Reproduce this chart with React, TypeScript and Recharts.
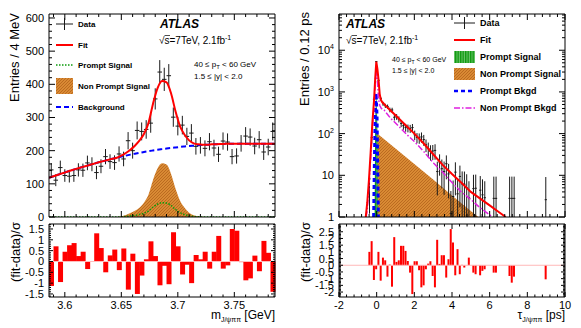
import React from 'react';
import { ComposedChart, Line, Area, Bar, Scatter, ErrorBar, XAxis, YAxis, ReferenceLine } from 'recharts';

const W = 581;
const H = 328;
const FONT = '"Liberation Sans", Arial, Helvetica, sans-serif';

// ---- left: m(J/psi pi pi), 4 MeV bins ----
const massBins = [3.588, 3.592, 3.596, 3.600, 3.604, 3.608, 3.612, 3.616, 3.620, 3.624, 3.628, 3.632, 3.636, 3.640, 3.644, 3.648, 3.652, 3.656, 3.660, 3.664, 3.668, 3.672, 3.676, 3.680, 3.684, 3.688, 3.692, 3.696, 3.700, 3.704, 3.708, 3.712, 3.716, 3.720, 3.724, 3.728, 3.732, 3.736, 3.740, 3.744, 3.748, 3.752, 3.756, 3.760, 3.764, 3.768, 3.772, 3.776, 3.780, 3.784];
const massCounts = [142, 111, 149, 125, 123, 125, 142, 141, 163, 159, 134, 153, 182, 167, 164, 190, 175, 230, 200, 261, 258, 264, 283, 356, 437, 415, 426, 301, 274, 277, 243, 253, 213, 216, 207, 227, 208, 189, 229, 226, 182, 184, 222, 244, 241, 214, 233, 196, 211, 258];
const massErrors = [20, 18, 21, 19, 19, 19, 20, 20, 22, 21, 20, 21, 23, 22, 22, 23, 22, 26, 24, 27, 27, 28, 29, 32, 36, 35, 35, 29, 28, 28, 26, 27, 25, 25, 24, 26, 25, 23, 26, 26, 23, 23, 25, 27, 26, 25, 26, 24, 25, 27];
const massPulls = [-1.13, 0.7, -0.95, 0.45, 0.75, 0.85, 0.25, 0.45, -0.35, -0.02, 1.3, 0.62, -0.5, 0.28, 0.55, -0.4, 0.6, -1.3, 0.36, -1.5, -0.65, 0.1, 0.93, 0.25, -1.1, -0.2, -1.05, 1.35, 0.7, -0.6, -0.15, -1.0, 0.3, 0.1, 0.45, -0.33, 0.45, 1.18, -0.33, -0.18, 1.5, 1.42, -0.03, -0.87, -0.78, 0.27, -0.45, 0.95, 0.4, -1.4];

const massCurveX = [3.586, 3.590, 3.594, 3.598, 3.602, 3.606, 3.610, 3.614, 3.618, 3.622, 3.626, 3.630, 3.634, 3.638, 3.642, 3.646, 3.650, 3.654, 3.658, 3.662, 3.666, 3.670, 3.674, 3.678, 3.682, 3.686, 3.690, 3.694, 3.698, 3.702, 3.706, 3.710, 3.714, 3.718, 3.722, 3.726, 3.730, 3.734, 3.738, 3.742, 3.746, 3.750, 3.754, 3.758, 3.762, 3.766, 3.770, 3.774, 3.778, 3.782, 3.786];
const massFit = [118, 122.8, 127.5, 132, 136.4, 140.8, 145, 149, 153, 157, 161, 164.8, 168.5, 172, 175.5, 178.8, 185, 193, 203, 215, 230, 250, 283, 341, 388, 410, 406, 373, 318, 273, 248, 231, 222, 219, 218, 218, 219, 219.6, 220.2, 220.6, 220.9, 221, 221, 221, 221, 221, 221, 221, 221, 221, 221];
const massBkg = [118, 122.8, 127.5, 132, 136.4, 140.8, 145, 149, 153, 157, 161, 164.8, 168.5, 172, 175.5, 178.8, 182, 185, 188, 190.8, 193.5, 196, 198.4, 200.6, 202.7, 204.6, 206.4, 208.1, 209.7, 211.2, 212.6, 213.9, 215.1, 216.2, 217.2, 218.1, 218.9, 219.6, 220.2, 220.6, 220.9, 221, 221, 221, 221, 221, 221, 221, 221, 221, 221];
const massNonPrompt = [0, 0, 0, 0, 0, 0, 0, 0, 0, 0, 0, 0, 0, 0, 0, 0, 2, 6, 12, 19, 28, 43, 67, 111, 146, 162, 158, 130, 85, 49, 28, 13, 5.5, 2.4, 0.8, 0, 0, 0, 0, 0, 0, 0, 0, 0, 0, 0, 0, 0, 0, 0, 0];
const massPrompt = [0, 0, 0, 0, 0, 0, 0, 0, 0, 0, 0, 0, 0, 0, 0, 0, 0.6, 1.7, 3.2, 5, 7.6, 11.3, 17.9, 29.4, 38.9, 43, 42, 34.7, 22.7, 13, 7.4, 3.6, 1.5, 0.6, 0.2, 0, 0, 0, 0, 0, 0, 0, 0, 0, 0, 0, 0, 0, 0, 0, 0];

// ---- right: pseudo-proper decay time, 0.12 ps bins ----
const tauBins = [-0.38, -0.26, -0.14, -0.02, 0.10, 0.22, 0.34, 0.46, 0.58, 0.70, 0.82, 0.94, 1.06, 1.18, 1.30, 1.42, 1.54, 1.66, 1.78, 1.90, 2.02, 2.14, 2.26, 2.38, 2.50, 2.62, 2.74, 2.86, 2.98, 3.10, 3.22, 3.34, 3.46, 3.58, 3.70, 3.82, 3.94, 4.06, 4.18, 4.30, 4.42, 4.54, 4.66, 4.78, 4.90, 5.14, 5.26, 5.50, 5.62, 5.74, 6.22, 6.34, 7.06, 7.18, 7.30, 8.98];
const tauCounts = [8.2, 80, 665, 5330, 1893, 688, 520, 466, 445, 372, 369, 246, 254, 222, 176, 155, 141, 136, 133, 140, 94, 81, 79, 83.5, 72, 54, 44, 37.5, 38.3, 39.6, 12.3, 20.8, 14.4, 12.4, 19, 10.8, 1.2, 3.1, 11.9, 3.6, 9.4, 6.2, 6.1, 5.0, 2.9, 4.8, 4.9, 4.4, 3.4, 2.9, 2.8, 2.8, 2.8, 2.8, 2.8, 2.6];
const tauErrors = [7, 22, 65, 180, 110, 65, 57, 54, 53, 48, 48, 39, 40, 37, 33, 31, 30, 29, 29, 30, 24, 22, 22, 23, 21, 18, 17, 15, 15, 16, 9, 11, 9.5, 9, 11, 8, 3, 4.4, 8.6, 4.7, 7.7, 6.2, 6.2, 5.6, 4.3, 5.5, 5.5, 5.2, 4.6, 4.3, 6.5, 6.5, 6.5, 6.5, 6.5, 6.5];
const tauPulls = [1.0, 1.8, -1.1, -0.3, 1.0, -1.15, 0.57, 0.37, -0.85, 0.05, -1.6, 2.1, 0.25, 0.37, 1.45, 1.45, 1.07, 0.32, -0.55, -2.15, 0.3, 0.3, -0.37, -1.65, -1.5, -0.3, 0.12, 0.3, -0.8, -1.65, 1.9, 0.1, 0.75, 0.75, -0.92, 0.45, 2.7, 1.7, -0.75, 1.2, -0.67, 0.03, -0.17, 0, 0.57, -0.55, -0.67, -0.75, -0.42, -0.3, -0.55, -0.55, -0.8, -1.3, -0.85, -1.05];

const fitTau = [-0.58, -0.5, -0.41, -0.32, -0.23, -0.14, -0.08, -0.02, 0.04, 0.10, 0.16, 0.22, 0.28, 0.5, 0.75, 1.0, 1.5, 2.0, 2.5, 3.0, 3.5, 4.0, 4.5, 5.0, 5.5, 6.0, 6.5, 6.85];
const fitVals = [1, 2.2, 7.7, 35, 177, 620, 2000, 5300, 3500, 1950, 900, 650, 580, 457, 355, 275, 166, 100, 58, 32, 17.8, 10.7, 6.6, 4, 2.75, 1.9, 1.3, 1];
const npBkgTau = [-0.56, -0.5, -0.41, -0.32, -0.23, -0.14, -0.08, -0.02, 0.04, 0.10, 0.16, 0.25, 0.39, 0.74, 1.0, 1.62, 2.0, 2.5, 3.03, 3.57, 4.0, 4.44, 4.97, 5.47, 6.03, 6.15];
const npBkgVals = [1, 1.5, 5.5, 25, 125, 450, 1500, 3600, 1800, 700, 480, 400, 370, 233, 180, 93, 65, 37, 19.5, 11, 6.7, 4.2, 2.7, 1.7, 1.1, 1];
const pBkgTau = [-0.16, -0.12, -0.08, -0.03, 0.02, 0.06, 0.09];
const pBkgVals = [1, 20, 250, 930, 250, 10, 1];
const pSigTau = [-0.12, -0.08, -0.04, 0.0, 0.04, 0.08];
const pSigVals = [1, 150, 700, 700, 150, 1];
const npSigTau = [-0.05, -0.04, 0, 1, 2, 3, 4, 5, 5.4];
const npSigVals = [1, 107, 103.5, 43.9, 18.6, 7.9, 3.3, 1.4, 1];

// ---- axis ticks ----
const range = (a: number, b: number, step: number, dp: number) => {
  const out: number[] = [];
  for (let i = 0; a + i * step <= b + step / 2; i++) out.push(+(a + i * step).toFixed(dp));
  return out;
};
const massMajor = [3.6, 3.65, 3.7, 3.75];
const massTicks = range(3.59, 3.78, 0.01, 2);
const countMajor = [0, 100, 200, 300, 400, 500, 600];
const countTicks = range(0, 600, 20, 0);
const pullMajorL = [-1.5, -1, -0.5, 0, 0.5, 1, 1.5];
const pullTicksL = range(-1.6, 1.7, 0.1, 1);
const tauMajor = [-2, 0, 2, 4, 6, 8, 10];
const tauTicks = range(-2, 10, 0.4, 1);
const logMajor = [1, 10, 100, 1000, 10000];
const logTicks = logMajor.flatMap((d) => [1, 2, 3, 4, 5, 6, 7, 8, 9].map((m) => m * d)).filter((v) => v <= 70000);
const pullMajorR = [-2, -1.5, -1, -0.5, 0, 0.5, 1, 1.5, 2, 2.5];
const pullTicksR = range(-2.3, 3.0, 0.1, 1);

// ---- tables ----
const massPoints = massBins.map((x, i) => ({ x, y: massCounts[i], ey: massErrors[i], ex: 0.002 }));
const massCurve = (ys: number[]) => massCurveX.map((x, i) => ({ x, y: ys[i] }));
const massPullRows = massBins.map((x, i) => ({ bin: x.toFixed(3), x, pull: massPulls[i] }));

// lower error stops at the bottom of the log axis (value 1)
const tauPoints = tauBins.map((x, i) => {
  const v = tauCounts[i];
  const e = tauErrors[i];
  return { x, y: v, ey: [Math.min(e, v - 1), e], ex: 0.06 };
});
const tauCurve = (xs: number[], ys: number[]) => xs.map((x, i) => ({ x, y: ys[i] }));
const tauGrid = Array.from({ length: 100 }, (_, k) => +(-1.94 + 0.12 * k).toFixed(2));
const tauPullRows = tauGrid.map((c) => {
  const j = tauBins.findIndex((b) => Math.abs(b - c) < 0.01);
  return { bin: c.toFixed(2), x: c, pull: j >= 0 ? tauPulls[j] : null };
});

// ---- ROOT-style inward ticks ----
type Side = 'bottom' | 'top' | 'left' | 'right';
const makeTick = (side: Side, majors: number[], len: number, label?: (v: number) => React.ReactNode) => (props: any) => {
  const { x, y, payload } = props;
  const v = payload.value as number;
  const isMajor = majors.some((m) => Math.abs(m - v) < 1e-6);
  const l = isMajor ? len : len / 2;
  const d = side === 'bottom' ? [0, -l] : side === 'top' ? [0, l] : side === 'left' ? [l, 0] : [-l, 0];
  return (
    <g>
      <line x1={x} y1={y} x2={x + d[0]} y2={y + d[1]} stroke="#000" strokeWidth={1} />
      {label && isMajor && side === 'bottom' && (
        <text x={x} y={y + 12} textAnchor="middle" fontSize={11} fontFamily={FONT} fill="#000">{label(v)}</text>
      )}
      {label && isMajor && side === 'left' && (
        <text x={x - 5} y={y + 4} textAnchor="end" fontSize={11} fontFamily={FONT} fill="#000">{label(v)}</text>
      )}
    </g>
  );
};
const plain = (v: number) => String(v);
const powLabel = (v: number) => {
  if (v === 1) return '1';
  if (v === 10) return '10';
  const n = Math.round(Math.log10(v));
  return (
    <>
      <tspan>10</tspan>
      <tspan dy={-5} fontSize={7}>{n}</tspan>
    </>
  );
};

// axes are 1px thick so that recharts draws them; margins are reduced by 1 to compensate
const axisCommon = { tickSize: 0, tickMargin: 0, tickLine: false, interval: 0 as const, axisLine: { stroke: '#000' }, allowDataOverflow: true };
const pos: React.CSSProperties = { position: 'absolute', left: 0, top: 0 };

const OrangeHatch = ({ id }: { id: string }) => (
  <pattern id={id} width={3} height={3} patternUnits="userSpaceOnUse">
    <rect width={3} height={3} fill="#d98a34" />
    <path d="M0,3 L3,0" stroke="#b4621a" strokeWidth={0.8} />
  </pattern>
);
const GreenHatch = ({ id }: { id: string }) => (
  <pattern id={id} width={2.5} height={3} patternUnits="userSpaceOnUse">
    <rect width={2.5} height={3} fill="#109a10" />
    <line x1={1.9} y1={0} x2={1.9} y2={3} stroke="#a8e0a8" strokeWidth={0.7} />
  </pattern>
);

const noShape = () => <g />;

function MassPanel() {
  return (
    <div style={pos}>
      <ComposedChart width={W} height={H} margin={{ top: 13, right: 305, bottom: 110, left: 48 }}>
        <defs>
          <OrangeHatch id="npMass" />
        </defs>
        <XAxis xAxisId="b" dataKey="x" type="number" domain={[3.586, 3.786]} ticks={massTicks} height={1} tick={makeTick('bottom', massMajor, 6)} {...axisCommon} />
        <XAxis xAxisId="t" dataKey="x" orientation="top" type="number" domain={[3.586, 3.786]} ticks={massTicks} height={1} tick={makeTick('top', massMajor, 6)} {...axisCommon} />
        <YAxis yAxisId="l" type="number" domain={[0, 612]} ticks={countTicks} width={1} tick={makeTick('left', countMajor, 6, plain)} {...axisCommon} />
        <YAxis yAxisId="r" orientation="right" type="number" domain={[0, 612]} ticks={countTicks} width={1} tick={makeTick('right', countMajor, 6)} {...axisCommon} />
        <Scatter xAxisId="b" yAxisId="l" data={massPoints} dataKey="y" shape={noShape} isAnimationActive={false}>
          <ErrorBar dataKey="ey" direction="y" width={0} stroke="#1a1a1a" strokeWidth={1} />
          <ErrorBar dataKey="ex" direction="x" width={0} stroke="#1a1a1a" strokeWidth={1} />
        </Scatter>
        <Area xAxisId="b" yAxisId="l" data={massCurve(massNonPrompt)} dataKey="y" type="monotone" stroke="none" fill="url(#npMass)" fillOpacity={1} isAnimationActive={false} />
        <Line xAxisId="b" yAxisId="l" data={massCurve(massPrompt)} dataKey="y" type="monotone" stroke="#0a9a0a" strokeWidth={1.5} strokeDasharray="1.5 1.5" dot={false} activeDot={false} isAnimationActive={false} />
        <Line xAxisId="b" yAxisId="l" data={massCurve(massBkg)} dataKey="y" type="monotone" stroke="#0000ff" strokeWidth={2} strokeDasharray="5 3" dot={false} activeDot={false} isAnimationActive={false} />
        <Line xAxisId="b" yAxisId="l" data={massCurve(massFit)} dataKey="y" type="monotone" stroke="#ff0000" strokeWidth={2} dot={false} activeDot={false} isAnimationActive={false} />
      </ComposedChart>
    </div>
  );
}

function MassPulls() {
  return (
    <div style={pos}>
      <ComposedChart width={W} height={H} data={massPullRows} margin={{ top: 223, right: 305, bottom: 30, left: 48 }} barCategoryGap={0} barGap={0}>
        <XAxis xAxisId="n" dataKey="x" type="number" domain={[3.586, 3.786]} ticks={massTicks} height={1} tick={makeTick('bottom', massMajor, 5, plain)} {...axisCommon} />
        <XAxis xAxisId="nt" dataKey="x" orientation="top" type="number" domain={[3.586, 3.786]} ticks={massTicks} height={1} tick={makeTick('top', massMajor, 5)} {...axisCommon} />
        <XAxis xAxisId="bin" dataKey="bin" type="category" hide height={0} />
        <YAxis yAxisId="l" type="number" domain={[-1.64, 1.73]} ticks={pullTicksL} width={1} tick={makeTick('left', pullMajorL, 4, plain)} {...axisCommon} />
        <YAxis yAxisId="r" orientation="right" type="number" domain={[-1.64, 1.73]} ticks={pullTicksL} width={1} tick={makeTick('right', pullMajorL, 4)} {...axisCommon} />
        <ReferenceLine xAxisId="n" yAxisId="l" y={0} stroke="#ffc0c0" strokeWidth={1} />
        <Bar xAxisId="bin" yAxisId="l" dataKey="pull" fill="#ff0000" isAnimationActive={false} />
      </ComposedChart>
    </div>
  );
}

function TauPanel() {
  return (
    <div style={pos}>
      <ComposedChart width={W} height={H} margin={{ top: 13, right: 15, bottom: 110, left: 338 }}>
        <defs>
          <OrangeHatch id="npTau" />
          <GreenHatch id="pTau" />
        </defs>
        <XAxis xAxisId="b" dataKey="x" type="number" domain={[-2, 10]} ticks={tauTicks} height={1} tick={makeTick('bottom', tauMajor, 6)} {...axisCommon} />
        <XAxis xAxisId="t" dataKey="x" orientation="top" type="number" domain={[-2, 10]} ticks={tauTicks} height={1} tick={makeTick('top', tauMajor, 6)} {...axisCommon} />
        <YAxis yAxisId="l" type="number" scale="log" domain={[1, 74000]} ticks={logTicks} width={1} tick={makeTick('left', logMajor, 6, powLabel)} {...axisCommon} />
        <YAxis yAxisId="r" orientation="right" type="number" scale="log" domain={[1, 74000]} ticks={logTicks} width={1} tick={makeTick('right', logMajor, 6)} {...axisCommon} />
        <Area xAxisId="b" yAxisId="l" data={tauCurve(npSigTau, npSigVals)} dataKey="y" type="linear" baseValue={1} stroke="none" fill="url(#npTau)" fillOpacity={1} isAnimationActive={false} />
        <Area xAxisId="b" yAxisId="l" data={tauCurve(pSigTau, pSigVals)} dataKey="y" type="linear" baseValue={1} stroke="none" fill="url(#pTau)" fillOpacity={1} isAnimationActive={false} />
        <Scatter xAxisId="b" yAxisId="l" data={tauPoints} dataKey="y" shape={noShape} isAnimationActive={false}>
          <ErrorBar dataKey="ey" direction="y" width={0} stroke="#1a1a1a" strokeWidth={1} />
          <ErrorBar dataKey="ex" direction="x" width={0} stroke="#1a1a1a" strokeWidth={1} />
        </Scatter>
        <Line xAxisId="b" yAxisId="l" data={tauCurve(pBkgTau, pBkgVals)} dataKey="y" type="linear" stroke="#0000ff" strokeWidth={3} strokeDasharray="4 3" dot={false} activeDot={false} isAnimationActive={false} />
        <Line xAxisId="b" yAxisId="l" data={tauCurve(npBkgTau, npBkgVals)} dataKey="y" type="linear" stroke="#e020e0" strokeWidth={1.5} strokeDasharray="6 2 1.5 2" dot={false} activeDot={false} isAnimationActive={false} />
        <Line xAxisId="b" yAxisId="l" data={tauCurve(fitTau, fitVals)} dataKey="y" type="linear" stroke="#ff0000" strokeWidth={2} dot={false} activeDot={false} isAnimationActive={false} />
      </ComposedChart>
    </div>
  );
}

function TauPulls() {
  return (
    <div style={pos}>
      <ComposedChart width={W} height={H} data={tauPullRows} margin={{ top: 223, right: 15, bottom: 30, left: 338 }} barCategoryGap={0} barGap={0}>
        <XAxis xAxisId="n" dataKey="x" type="number" domain={[-2, 10]} ticks={tauTicks} height={1} tick={makeTick('bottom', tauMajor, 5, plain)} {...axisCommon} />
        <XAxis xAxisId="nt" dataKey="x" orientation="top" type="number" domain={[-2, 10]} ticks={tauTicks} height={1} tick={makeTick('top', tauMajor, 5)} {...axisCommon} />
        <XAxis xAxisId="bin" dataKey="bin" type="category" hide height={0} />
        <YAxis yAxisId="l" type="number" domain={[-2.37, 3.08]} ticks={pullTicksR} width={1} tick={makeTick('left', pullMajorR, 4, plain)} {...axisCommon} />
        <YAxis yAxisId="r" orientation="right" type="number" domain={[-2.37, 3.08]} ticks={pullTicksR} width={1} tick={makeTick('right', pullMajorR, 4)} {...axisCommon} />
        <ReferenceLine xAxisId="n" yAxisId="l" y={0} stroke="#ffb8b8" strokeWidth={1} />
        <Bar xAxisId="bin" yAxisId="l" dataKey="pull" fill="#ff0000" isAnimationActive={false} />
      </ComposedChart>
    </div>
  );
}

function Overlay() {
  const bold8 = { fontSize: 8, fontWeight: 700 } as const;
  const bold9 = { fontSize: 9, fontWeight: 700 } as const;
  return (
    <svg width={W} height={H} style={{ ...pos, pointerEvents: 'none' }} fontFamily={FONT} fill="#000">
      <defs>
        <OrangeHatch id="npLeg" />
        <GreenHatch id="pLeg" />
      </defs>

      {/* axis titles */}
      <text transform="translate(19,13) rotate(-90)" textAnchor="end" fontSize={13}>Entries / 4 MeV</text>
      <text transform="translate(309,12) rotate(-90)" textAnchor="end" fontSize={13}>Entries / 0.12 ps</text>
      <text transform="translate(20,222) rotate(-90)" textAnchor="end" fontSize={13}>(fit-data)/σ</text>
      <text transform="translate(310,222) rotate(-90)" textAnchor="end" fontSize={13}>(fit-data)/σ</text>
      <text x={275} y={319} textAnchor="end" fontSize={12}>m<tspan dy={3} fontSize={7}>J/ψππ</tspan><tspan dy={-3}> [GeV]</tspan></text>
      <text x={565} y={319} textAnchor="end" fontSize={12}>τ<tspan dy={3} fontSize={7}>J/ψππ</tspan><tspan dy={-3}> [ps]</tspan></text>

      {/* left annotations */}
      <text x={160} y={28} fontSize={12} fontWeight={700} fontStyle="italic">ATLAS</text>
      <text x={159} y={44} fontSize={10}>√s=7TeV, 2.1fb<tspan dy={-4} fontSize={7}>-1</tspan></text>
      <line x1={164.5} x2={170} y1={35.5} y2={35.5} stroke="#000" strokeWidth={0.7} />
      <text x={194} y={67} fontSize={8}>40 ≤ p<tspan dy={2} fontSize={6}>T</tspan><tspan dy={-2}> &lt; 60 GeV</tspan></text>
      <text x={194} y={79} fontSize={8}>1.5 ≤ |y| &lt; 2.0</text>

      {/* left legend */}
      <line x1={56} x2={73} y1={24} y2={24} stroke="#1a1a1a" />
      <line x1={64.5} x2={64.5} y1={18} y2={30} stroke="#1a1a1a" />
      <text x={78} y={27} {...bold8}>Data</text>
      <line x1={56} x2={73} y1={45} y2={45} stroke="#ff0000" strokeWidth={2} />
      <text x={78} y={48} {...bold8}>Fit</text>
      <line x1={56} x2={73} y1={65} y2={65} stroke="#0a9a0a" strokeWidth={1.5} strokeDasharray="1.5 1.5" />
      <text x={78} y={68} {...bold8}>Prompt Signal</text>
      <rect x={56} y={78} width={17} height={16} fill="url(#npLeg)" />
      <text x={78} y={89} {...bold8}>Non Prompt Signal</text>
      <line x1={56} x2={73} y1={107} y2={107} stroke="#0000ff" strokeWidth={2} strokeDasharray="5 3" />
      <text x={78} y={110} {...bold8}>Background</text>

      {/* right annotations */}
      <text x={346} y={28} fontSize={12} fontWeight={700} fontStyle="italic">ATLAS</text>
      <text x={346} y={44} fontSize={10}>√s=7TeV, 2.1fb<tspan dy={-4} fontSize={7}>-1</tspan></text>
      <line x1={351.5} x2={357} y1={35.5} y2={35.5} stroke="#000" strokeWidth={0.7} />
      <text x={392} y={62} fontSize={7}>40 ≤ p<tspan dy={2} fontSize={5}>T</tspan><tspan dy={-2}> &lt; 60 GeV</tspan></text>
      <text x={392} y={73} fontSize={7}>1.5 ≤ |y| &lt; 2.0</text>

      {/* right legend */}
      <line x1={454} x2={475} y1={23} y2={23} stroke="#1a1a1a" />
      <line x1={464.5} x2={464.5} y1={17} y2={29} stroke="#1a1a1a" />
      <text x={480} y={26} {...bold9}>Data</text>
      <line x1={454} x2={475} y1={40} y2={40} stroke="#ff0000" strokeWidth={2} />
      <text x={480} y={43} {...bold9}>Fit</text>
      <rect x={454} y={51} width={21} height={12} fill="url(#pLeg)" />
      <text x={480} y={60} {...bold9}>Prompt Signal</text>
      <rect x={454} y={68} width={21} height={12} fill="url(#npLeg)" />
      <text x={480} y={77} {...bold9}>Non Prompt Signal</text>
      <line x1={454} x2={475} y1={91} y2={91} stroke="#0000ff" strokeWidth={2.5} strokeDasharray="4 3" />
      <text x={480} y={94} {...bold9}>Prompt Bkgd</text>
      <line x1={454} x2={475} y1={108} y2={108} stroke="#e020e0" strokeWidth={1.5} strokeDasharray="6 2 1.5 2" />
      <text x={480} y={111} {...bold9}>Non Prompt Bkgd</text>
    </svg>
  );
}

export default function App() {
  return (
    <div style={{ ...pos, width: W, height: H, background: '#fff', fontFamily: FONT }}>
      <MassPanel />
      <MassPulls />
      <TauPanel />
      <TauPulls />
      <Overlay />
    </div>
  );
}
